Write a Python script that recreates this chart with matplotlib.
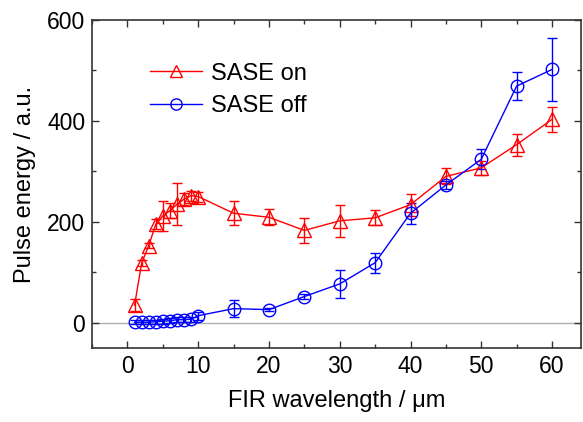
import matplotlib
matplotlib.use("Agg")
import matplotlib.pyplot as plt
from matplotlib.ticker import MultipleLocator

plt.rcParams['font.family'] = ['Liberation Sans', 'DejaVu Sans']

# wavelength in um
wl = [1, 2, 3, 4, 5, 6, 7, 8, 9, 10, 15, 20, 25, 30, 35, 40, 45, 50, 55, 60]

# SASE on
on_y = [35, 118, 153, 195, 212, 222, 235, 245, 252, 250,
        217, 209, 183, 202, 208, 234, 290, 307, 353, 403]
on_err = [12, 6, 5, 10, 30, 15, 42, 12, 10, 10,
          24, 16, 24, 32, 15, 22, 16, 14, 22, 24]

# SASE off
off_y = [1, 1, 1, 2, 3, 4, 6, 6, 7, 14,
         28, 26, 52, 77, 119, 217, 273, 324, 469, 502]
off_err = [4, 4, 4, 4, 5, 5, 5, 5, 5, 8,
           17, 3, 5, 27, 20, 21, 8, 20, 28, 62]

fig = plt.figure(figsize=(5.83, 4.22), dpi=100)
ax = fig.add_axes([0.158, 0.1754, 0.8386, 0.7772])

ax.axhline(0, color='#b0b0b0', lw=1, zorder=0)

ax.errorbar(wl, on_y, yerr=on_err, color='red', marker='^', ms=10,
            mfc='none', mec='red', mew=1, lw=1, elinewidth=1,
            capsize=3.5, capthick=1, label='SASE on')
ax.errorbar(wl, off_y, yerr=off_err, color='blue', marker='o', ms=9,
            mfc='none', mec='blue', mew=1, lw=1, elinewidth=1,
            capsize=3.5, capthick=1, label='SASE off')

ax.set_xlim(-5, 64.1)
ax.set_ylim(-50, 600)
ax.xaxis.set_major_locator(MultipleLocator(10))
ax.xaxis.set_minor_locator(MultipleLocator(5))
ax.yaxis.set_major_locator(MultipleLocator(200))
ax.yaxis.set_minor_locator(MultipleLocator(100))
ax.tick_params(which='both', direction='in', top=True, right=True,
               labelsize=16.5, color='#333333', pad=5)
ax.tick_params(which='major', length=5, width=1)
ax.tick_params(which='minor', length=3, width=1)
for s in ax.spines.values():
    s.set_color('#333333')
    s.set_linewidth(1.2)

ax.set_xlabel('FIR wavelength / μm', fontsize=17, labelpad=9)
ax.set_ylabel('Pulse energy / a.u.', fontsize=17, labelpad=8)

handles, labels = ax.get_legend_handles_labels()
handles = [h[0] for h in handles]
ax.legend(handles, labels, loc='upper left', bbox_to_anchor=(0.075, 0.935),
          frameon=False, fontsize=17, handlelength=2.2, handletextpad=0.4,
          labelspacing=0.45, markerscale=0.9)

fig.savefig('out.png', dpi=100)
